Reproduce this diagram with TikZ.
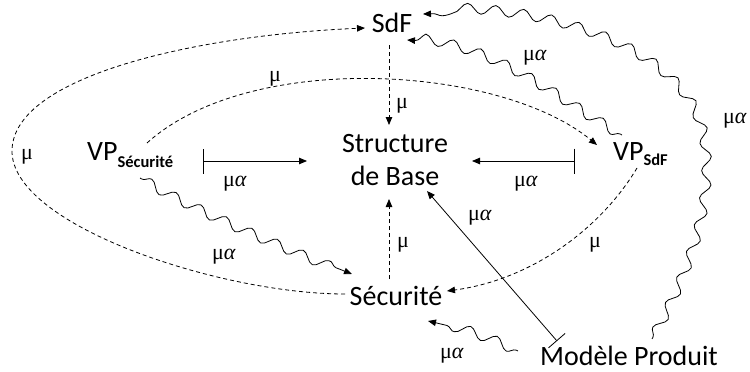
\documentclass[tikz,border=0pt]{standalone}
\usepackage{fontspec}
\setmainfont{Carlito}
\newfontfamily\grk{Liberation Serif}
\usetikzlibrary{arrows.meta,decorations.pathmorphing,calc}
\begin{document}
\begin{tikzpicture}[x=1pt,y=-1pt,
  main/.style={font=\fontsize{28}{33}\selectfont, inner sep=2pt},
  lbl/.style={font=\fontsize{22}{26}\selectfont\grk, inner sep=0pt},
  con/.style={line width=0.8pt},
  dsh/.style={con, dash pattern=on 4pt off 3pt},
  arr/.style={-{Triangle[length=8pt,width=6.5pt]}},
  bararr/.style={{Bar[width=25pt]}-{Triangle[length=8pt,width=6.5pt]}},
  wave/.style={con, decorate, decoration={snake, amplitude=5pt, segment length=28pt, post length=7pt, pre length=2pt}},
]
\useasboundingbox (0,0) rectangle (750,372);

% nodes
\node[main, anchor=base] (sdf) at (392,32) {SdF};
\node[main, align=center] (sb) at (395,160) {Structure\\de Base};
\node[main, anchor=base] (sec) at (396,305) {Sécurité};
\node[main, anchor=base] (mp) at (629,365) {Modèle Produit};
\node[main, anchor=base west] (vps) at (85,160) {VP\raisebox{-7pt}{\fontsize{16.5}{18}\selectfont\bfseries Sécurité}};
\node[main, anchor=base west] (vpf) at (611,160) {VP\raisebox{-5pt}{\fontsize{16.5}{18}\selectfont\bfseries SdF}};

% dashed connectors
\draw[dsh,arr] ($(sec.base)+(-51,-11)$) .. controls (220,294) and (10,225) .. (12,150)
   .. controls (14,75) and (200,35) .. ($(sdf.base)+(-27,-4)$);
\draw[dsh,arr] ($(vps.base west)+(62,-17)$) .. controls (250,50) and (500,65) .. ($(vpf.base west)+(-14,-15)$);
\draw[dsh,arr] ($(vpf.base west)+(26,8)$) .. controls (600,230) and (530,280) .. ($(sec.base)+(51,-14)$);
\draw[dsh,arr] ($(sdf.base)+(-3,13)$) -- ($(sb.center)+(-6,-35)$);
\draw[dsh,arr] ($(sec.base)+(-7,-26)$) -- ($(sb.center)+(-6,39)$);

% solid connectors
\draw[con,bararr] ($(vps.base west)+(118,1)$) -- ($(sb.center)+(-88,1)$);
\draw[con,bararr] ($(vpf.base west)+(-36,1)$) -- ($(sb.center)+(77,1)$);
\draw[con,{Bar[width=22pt]}-{Triangle[length=8pt,width=6.5pt]}] ($(mp.base)+(-72,-24)$) -- ($(sb.center)+(32,31)$);

% wavy connectors
\draw[wave,arr] ($(mp.base)+(23,-26)$) .. controls (690,270) and (712,200) .. (700,140)
   .. controls (685,60) and (560,10) .. ($(sdf.base)+(31,-18)$);
\draw[wave,arr] ($(vpf.base west)+(11,-25)$) .. controls (560,100) and (500,45) .. ($(sdf.base)+(15,8)$);
\draw[wave,arr] ($(vps.base west)+(55,18)$) .. controls (190,208) and (290,250) .. ($(sec.base)+(-44,-31)$);
\draw[wave,arr] ($(mp.base)+(-111,-14)$) .. controls (490,338) and (460,328) .. ($(sec.base)+(32,16)$);

% labels
\node[lbl] (m1) at (27,157) {μ};
\node[lbl] (m2) at (275,79) {μ};
\node[lbl] (m3) at (402,106) {μ};
\node[lbl] (m4) at (403,245) {μ};
\node[lbl] (m5) at (595,245) {μ};
\node[lbl] (a1) at (235,184) {μ\textit{α}};
\node[lbl] (a2) at (526,184) {μ\textit{α}};
\node[lbl] (a3) at (480,218) {μ\textit{α}};
\node[lbl] (a4) at (535,58) {μ\textit{α}};
\node[lbl] (a5) at (735,121) {μ\textit{α}};
\node[lbl] (a6) at (224,257) {μ\textit{α}};
\node[lbl] (a7) at (452,356) {μ\textit{α}};
\end{tikzpicture}
\end{document}
